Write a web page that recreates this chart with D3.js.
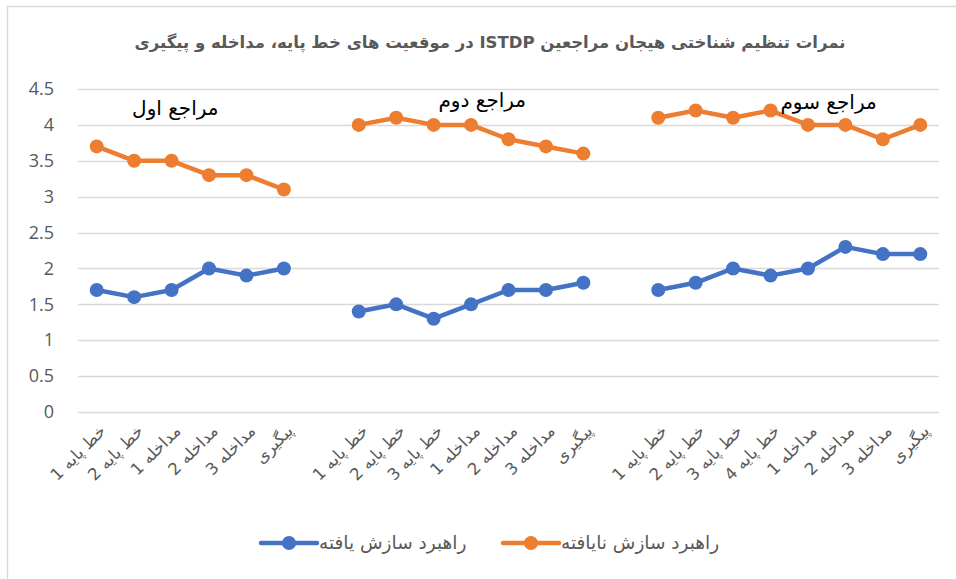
<!DOCTYPE html>
<html>
<head>
<meta charset="utf-8">
<script src="https://cdn.jsdelivr.net/npm/d3@7"></script>
<style>
  body { margin: 0; background: #fff; }
</style>
</head>
<body>
<div id="chart"></div>
<script>
// داده ها
var group_names = ['مراجع اول', 'مراجع دوم', 'مراجع سوم'];
var cats_1 = ['خط پایه 1', 'خط پایه 2', 'مداخله 1', 'مداخله 2', 'مداخله 3', 'پیگیری'];
var cats_2 = ['خط پایه 1', 'خط پایه 2', 'خط پایه 3', 'مداخله 1', 'مداخله 2', 'مداخله 3', 'پیگیری'];
var cats_3 = ['خط پایه 1', 'خط پایه 2', 'خط پایه 3', 'خط پایه 4', 'مداخله 1', 'مداخله 2', 'مداخله 3', 'پیگیری'];

var adapted_1 = [1.7, 1.6, 1.7, 2.0, 1.9, 2.0];
var adapted_2 = [1.4, 1.5, 1.3, 1.5, 1.7, 1.7, 1.8];
var adapted_3 = [1.7, 1.8, 2.0, 1.9, 2.0, 2.3, 2.2, 2.2];

var maladapted_1 = [3.7, 3.5, 3.5, 3.3, 3.3, 3.1];
var maladapted_2 = [4.0, 4.1, 4.0, 4.0, 3.8, 3.7, 3.6];
var maladapted_3 = [4.1, 4.2, 4.1, 4.2, 4.0, 4.0, 3.8, 4.0];

var y_ticks = [0, 0.5, 1, 1.5, 2, 2.5, 3, 3.5, 4, 4.5];
var series_names = ['راهبرد سازش یافته', 'راهبرد سازش نایافته'];
var title = 'نمرات تنظیم شناختی هیجان مراجعین ISTDP  در موقعیت های خط پایه، مداخله و پیگیری';

// یک دسته خالی بین هر مراجع
var cats = [].concat(cats_1, [''], cats_2, [''], cats_3);
var adapted = [].concat(adapted_1, [null], adapted_2, [null], adapted_3);
var maladapted = [].concat(maladapted_1, [null], maladapted_2, [null], maladapted_3);
// جایگاه عنوان هر مراجع (شماره دسته و مقدار)
var group_label_at = [2.1, 10.3, 19.55];
var group_label_val = [4.23, 4.35, 4.32];

var chart_width = 956;
var chart_height = 579;
var arabic_font = '"DejaVu Sans", "Noto Sans", sans-serif';

var svg = d3.select('#chart')
    .append('svg')
    .attr('width', chart_width)
    .attr('height', chart_height)

// قاب
svg.append('path')
    .attr('d', 'M7.5,' + chart_height + ' V6.5 H' + chart_width)
    .attr('fill', 'none')
    .attr('stroke', '#d9d9d9')
    .attr('stroke-width', 1.5)

var x_scale = d3.scalePoint()
    .domain(d3.range(cats.length))
    .range([78, 939])
    .padding(0.5)

var y_scale = d3.scaleLinear()
    .domain([0, 4.5])
    .range([412, 89])

// خطوط شبکه
svg.selectAll('.grid')
    .data(y_ticks)
    .enter()
    .append('line')
    .attr('class', 'grid')
    .attr('x1', 78)
    .attr('x2', 939)
    .attr('y1', function (d) { return Math.round(y_scale(d)) + 0.5; })
    .attr('y2', function (d) { return Math.round(y_scale(d)) + 0.5; })
    .attr('stroke', '#d9d9d9')
    .attr('stroke-width', 1.5)

// محور عمودی
var y_axis = d3.axisLeft(y_scale)
    .tickValues(y_ticks)
    .tickSize(0)
    .tickPadding(0)
    .tickFormat(function (d) { return d; })

var y_g = svg.append('g')
    .attr('transform', 'translate(54,0)')
    .call(y_axis)
y_g.select('.domain').remove()
y_g.selectAll('text')
    .attr('font-family', '"Open Sans", sans-serif')
    .attr('font-size', 18)
    .attr('fill', '#595959')

// برچسب های محور افقی
svg.selectAll('.xlabel')
    .data(cats)
    .enter()
    .append('text')
    .attr('class', 'xlabel')
    .text(function (d) { return d; })
    .attr('transform', function (d, i) {
        return 'translate(' + (x_scale(i) + 6) + ',428) rotate(-45)';
    })
    .attr('direction', 'rtl')
    .attr('text-anchor', 'start')
    .attr('dy', '0.35em')
    .attr('font-family', arabic_font)
    .attr('font-size', 16.5)
    .attr('fill', '#595959')

// خطوط و نشانگرها
var colors = ['#4472c4', '#ed7d31'];
var all_series = [adapted, maladapted];

var line = d3.line()
    .defined(function (d) { return d !== null; })
    .x(function (d, i) { return x_scale(i); })
    .y(function (d) { return y_scale(d); })

all_series.forEach(function (values, k) {
    svg.append('path')
        .datum(values)
        .attr('d', line)
        .attr('fill', 'none')
        .attr('stroke', colors[k])
        .attr('stroke-width', 4.5)
        .attr('stroke-linejoin', 'round')

    svg.selectAll('.dot' + k)
        .data(values.map(function (v, i) { return { v: v, i: i }; })
            .filter(function (d) { return d.v !== null; }))
        .enter()
        .append('circle')
        .attr('class', 'dot' + k)
        .attr('cx', function (d) { return x_scale(d.i); })
        .attr('cy', function (d) { return y_scale(d.v); })
        .attr('r', 7)
        .attr('fill', colors[k])
})

// عنوان مراجعین
svg.selectAll('.glabel')
    .data(group_names)
    .enter()
    .append('text')
    .attr('class', 'glabel')
    .text(function (d) { return d; })
    .attr('x', function (d, i) {
        var lo = Math.floor(group_label_at[i]);
        var f = group_label_at[i] - lo;
        return x_scale(lo) + f * x_scale.step();
    })
    .attr('y', function (d, i) { return y_scale(group_label_val[i]); })
    .attr('dy', '0.35em')
    .attr('text-anchor', 'middle')
    .attr('font-family', arabic_font)
    .attr('font-size', 20)
    .attr('fill', '#000')

// عنوان نمودار
svg.append('text')
    .text(title)
    .attr('x', 490)
    .attr('y', 42)
    .attr('dy', '0.35em')
    .attr('text-anchor', 'middle')
    .attr('direction', 'rtl')
    .attr('font-family', arabic_font)
    .attr('font-weight', 'bold')
    .attr('font-size', 16.5)
    .attr('fill', '#595959')

// راهنما
var legend_x = [261, 503];
series_names.forEach(function (name, k) {
    var g = svg.append('g')
        .attr('transform', 'translate(' + legend_x[k] + ',543)')
    g.append('line')
        .attr('x1', 0)
        .attr('x2', 56)
        .attr('stroke', colors[k])
        .attr('stroke-width', 4.5)
        .attr('stroke-linecap', 'round')
    g.append('circle')
        .attr('cx', 28)
        .attr('r', 7)
        .attr('fill', colors[k])
    g.append('text')
        .text(name)
        .attr('x', 58)
        .attr('dy', '0.35em')
        .attr('direction', 'rtl')
        .attr('text-anchor', 'end')
        .attr('font-family', arabic_font)
        .attr('font-size', 18.5)
        .attr('fill', '#595959')
})
</script>
</body>
</html>
